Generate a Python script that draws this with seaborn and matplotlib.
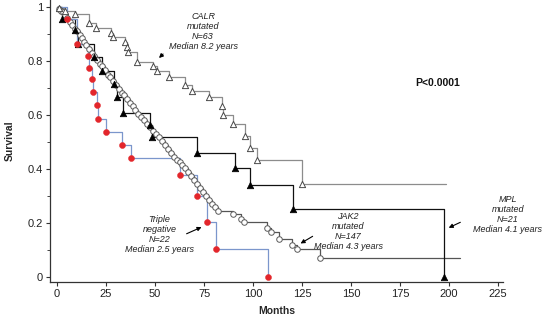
import numpy as np
import matplotlib
matplotlib.use("Agg")
import matplotlib.pyplot as plt
from matplotlib.ticker import MultipleLocator
import seaborn as sns

# CALR mutated (open triangles)
calr_t = [1, 4, 9, 16.5, 20, 27.5, 28.7, 34.5, 35.5, 36, 40.6, 49, 51, 57, 65.5,
          69, 77.5, 84, 84.5, 90, 96, 98.5, 102, 125]
calr_s = [0.995, 0.984, 0.974, 0.942, 0.921, 0.904, 0.889, 0.870, 0.852, 0.833, 0.796,
          0.781, 0.762, 0.741, 0.711, 0.690, 0.665, 0.633, 0.600, 0.567, 0.522, 0.478,
          0.433, 0.344]
calr_end = 198.5

# JAK2 mutated (open circles)
jak2_t = [1, 2, 3, 4, 5, 6.5, 7.5, 9, 10, 11.5, 12.5, 14, 15, 16.5, 18, 19, 20.5, 22,
          23, 24.5, 26, 27, 28.5, 30, 31.5, 33, 34, 35.5, 37, 38.5, 40, 41.5, 43, 44.5,
          46, 47.5, 49, 50.5, 52, 53.5, 55, 56.5, 58, 59.5, 61, 62.5, 64, 65.5, 67,
          68.5, 70, 71.5, 73, 74.5, 76, 77.5, 79, 80.5, 82, 90, 94, 95.5, 107, 109,
          113, 120, 122.5, 134]
jak2_s = [0.993, 0.986, 0.98, 0.97, 0.96, 0.946, 0.935, 0.92, 0.91, 0.895, 0.885, 0.87,
          0.86, 0.845, 0.83, 0.82, 0.805, 0.79, 0.78, 0.765, 0.75, 0.74, 0.725, 0.71,
          0.697, 0.683, 0.675, 0.66, 0.645, 0.632, 0.618, 0.605, 0.592, 0.58, 0.567,
          0.555, 0.542, 0.53, 0.517, 0.505, 0.49, 0.475, 0.46, 0.445, 0.435, 0.425,
          0.414, 0.404, 0.39, 0.375, 0.36, 0.345, 0.33, 0.315, 0.30, 0.285, 0.27,
          0.258, 0.245, 0.235, 0.215, 0.205, 0.182, 0.168, 0.142, 0.118, 0.105, 0.07]
jak2_end = 205.6

# MPL mutated (filled triangles)
mpl_t = [2.5, 9.2, 10.9, 19, 23, 29, 30.5, 33.5, 47.4, 48.4, 71.4, 91, 98.5, 120.4, 197.5]
mpl_s = [0.957, 0.914, 0.863, 0.815, 0.763, 0.715, 0.667, 0.607, 0.563, 0.518, 0.46,
         0.404, 0.34, 0.252, 0.0]

# triple negative (red dots)
tn_t = [5, 10.2, 15.8, 16.4, 17.7, 18.2, 20.2, 21, 24.8, 33, 37.8, 62.8, 71.4, 76.5, 81, 107.7]
tn_s = [0.955, 0.864, 0.818, 0.773, 0.733, 0.684, 0.637, 0.587, 0.538, 0.489, 0.44,
        0.378, 0.30, 0.204, 0.104, 0.0]

xticks = [0, 25, 50, 75, 100, 125, 150, 175, 200, 225]
yticks = [0, 0.2, 0.4, 0.6, 0.8, 1]
ytick_labels = ["0", "0.2", "0.4", "0.6", "0.8", "1"]

sns.set_style("ticks")
plt.rcParams['font.family'] = ['Liberation Sans', 'DejaVu Sans']

fig = plt.figure(figsize=(5.42, 3.22), dpi=100)
ax = fig.add_axes([0.0923, 0.1242, 0.8358, 0.8758])


def step_xy(t, s, end=None):
    # ступенчатая кривая: старт с 1 в момент 0
    x = [0] + list(t)
    y = [1] + list(s)
    if end is not None:
        x.append(end)
        y.append(s[-1])
    return x, y


curves = [
    (calr_t, calr_s, calr_end, "#8c8c8c"),
    (jak2_t, jak2_s, jak2_end, "#555555"),
    (mpl_t, mpl_s, None, "#111111"),
    (tn_t, tn_s, None, "#7b96cc"),
]
for t, s, end, col in curves:
    x, y = step_xy(t, s, end)
    sns.lineplot(x=x, y=y, ax=ax, drawstyle="steps-post", estimator=None, sort=False,
                 color=col, linewidth=0.9)

sns.scatterplot(x=jak2_t, y=jak2_s, ax=ax, marker="o", s=16, color="white",
                edgecolor="#5a5a5a", linewidth=0.7, zorder=3)
sns.scatterplot(x=calr_t, y=calr_s, ax=ax, marker="^", s=20, color="white",
                edgecolor="#4a4a4a", linewidth=0.7, zorder=3)
sns.scatterplot(x=mpl_t, y=mpl_s, ax=ax, marker="^", s=22, color="black",
                edgecolor="black", linewidth=0.5, zorder=4)
sns.scatterplot(x=tn_t, y=tn_s, ax=ax, marker="o", s=19, color="#e3262b",
                edgecolor="#e3262b", linewidth=0.3, zorder=5)

ax.set_xlim(-3.57, 227.5)
ax.set_ylim(-0.0185, 1.026)
ax.set_xticks(xticks)
ax.set_yticks(yticks)
ax.set_yticklabels(ytick_labels)
ax.yaxis.set_minor_locator(MultipleLocator(0.1))
ax.tick_params(axis="both", which="major", labelsize=8, length=3, width=0.8, pad=2,
               color="#333333", labelcolor="#222222")
ax.tick_params(axis="y", which="minor", length=2, width=0.6)
sns.despine(ax=ax)
for sp in ["left", "bottom"]:
    ax.spines[sp].set_linewidth(0.9)
    ax.spines[sp].set_color("#333333")

ax.set_xlabel("Months", fontsize=7.5, fontweight="bold")
ax.set_ylabel("Survival", fontsize=7.5, fontweight="bold")
ax.xaxis.set_label_coords(0.5, -0.085)
ax.yaxis.set_label_coords(-0.077, 0.5)

txt = dict(fontsize=6.5, style="italic", ha="center", va="center", color="#222222",
           linespacing=1.15)
arr = dict(arrowstyle="-|>", color="black", lw=0.8, mutation_scale=6)

ax.text(74.5, 0.909, "CALR\nmutated\nN=63\nMedian 8.2 years", **txt)
ax.annotate("", xy=(51, 0.804), xytext=(55.1, 0.833), arrowprops=arr)

ax.text(52.3, 0.156, "Triple\nnegative\nN=22\nMedian 2.5 years", **txt)
ax.annotate("", xy=(75, 0.189), xytext=(64.8, 0.156), arrowprops=arr)

ax.text(148.5, 0.17, "JAK2\nmutated\nN=147\nMedian 4.3 years", **txt)
ax.annotate("", xy=(123, 0.119), xytext=(131.6, 0.156), arrowprops=arr)

ax.text(230, 0.233, "MPL\nmutated\nN=21\nMedian 4.1 years", clip_on=False, **txt)
ax.annotate("", xy=(198.5, 0.178), xytext=(207, 0.207), arrowprops=arr,
            annotation_clip=False)

ax.text(193.9, 0.719, "P<0.0001", fontsize=7.5, fontweight="bold", ha="center",
        va="center", color="#111111")

fig.savefig("out.png", dpi=100)
